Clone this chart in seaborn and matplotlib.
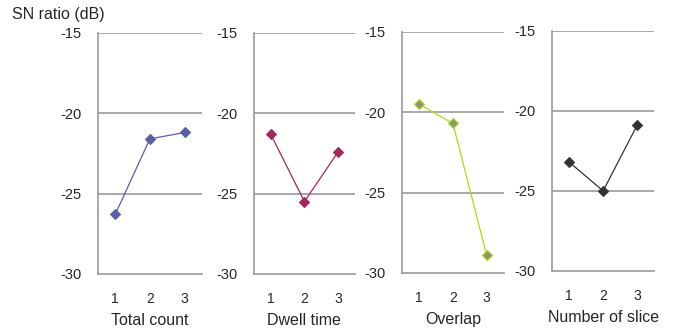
import pandas as pd
import numpy as np
import matplotlib
matplotlib.use("Agg")
import matplotlib.pyplot as plt
import seaborn as sns

sns.set_style("white")
plt.rcParams['font.family'] = ['Liberation Sans', 'DejaVu Sans']
plt.rcParams['axes.unicode_minus'] = False

# Data
levels = [1, 2, 3]
factors = ['Total count', 'Dwell time', 'Overlap', 'Number of slice']
total_count = [-26.3, -21.6, -21.2]
dwell_time = [-21.3, -25.5, -22.4]
overlap = [-19.5, -20.7, -28.9]
number_of_slice = [-23.2, -25.0, -20.9]
y_ticks = [-30, -25, -20, -15]

series = [total_count, dwell_time, overlap, number_of_slice]
line_colors = ['#5a5fa8', '#a3285c', '#a8dc14', '#333333']
marker_colors = ['#5a5fa8', '#a3285c', '#8c9670', '#333333']

# axes rectangles [left, bottom, width, height] in figure fraction
boxes = [
    [0.145, 0.175, 0.154, 0.726],
    [0.376, 0.175, 0.150, 0.726],
    [0.596, 0.178, 0.150, 0.726],
    [0.818, 0.184, 0.151, 0.723],
]

fig = plt.figure(figsize=(6.75, 3.32), dpi=100)

for i, (name, vals) in enumerate(zip(factors, series)):
    ax = fig.add_axes(boxes[i])
    df = pd.DataFrame({'Level': levels, 'SN': vals})
    sns.lineplot(data=df, x='Level', y='SN', ax=ax, color=line_colors[i],
                 linewidth=0.9, marker='D', markersize=5.5,
                 markerfacecolor=marker_colors[i], markeredgecolor=line_colors[i],
                 markeredgewidth=0.8, zorder=3)
    ax.set_xlim(0.5, 3.5)
    ax.set_ylim(-30, -15)
    ax.set_yticks(y_ticks)
    ax.set_yticklabels([str(t) for t in y_ticks], fontsize=10.5)
    ax.set_xticks(levels)
    ax.set_xticklabels([str(l) for l in levels], fontsize=10)
    ax.set_xticks([1.5, 2.5, 3.5], minor=True)
    ax.tick_params(axis='x', which='major', length=0, pad=13)
    ax.tick_params(axis='x', which='minor', length=3, direction='in', color='#999999', width=1)
    ax.tick_params(axis='y', length=0, pad=12)
    for t in [-25, -20, -15]:
        ax.axhline(t, color='#999999', linewidth=1.2, zorder=1)
    for s in ['top', 'right']:
        ax.spines[s].set_visible(False)
    for s in ['left', 'bottom']:
        ax.spines[s].set_color('#999999')
        ax.spines[s].set_linewidth(1.2)
    ax.set_xlabel(name, fontsize=11.5, labelpad=5)
    ax.set_ylabel('')

fig.text(0.018, 0.955, 'SN ratio (dB)', fontsize=11.5, ha='left', va='center')

fig.savefig('out.png', dpi=100)
